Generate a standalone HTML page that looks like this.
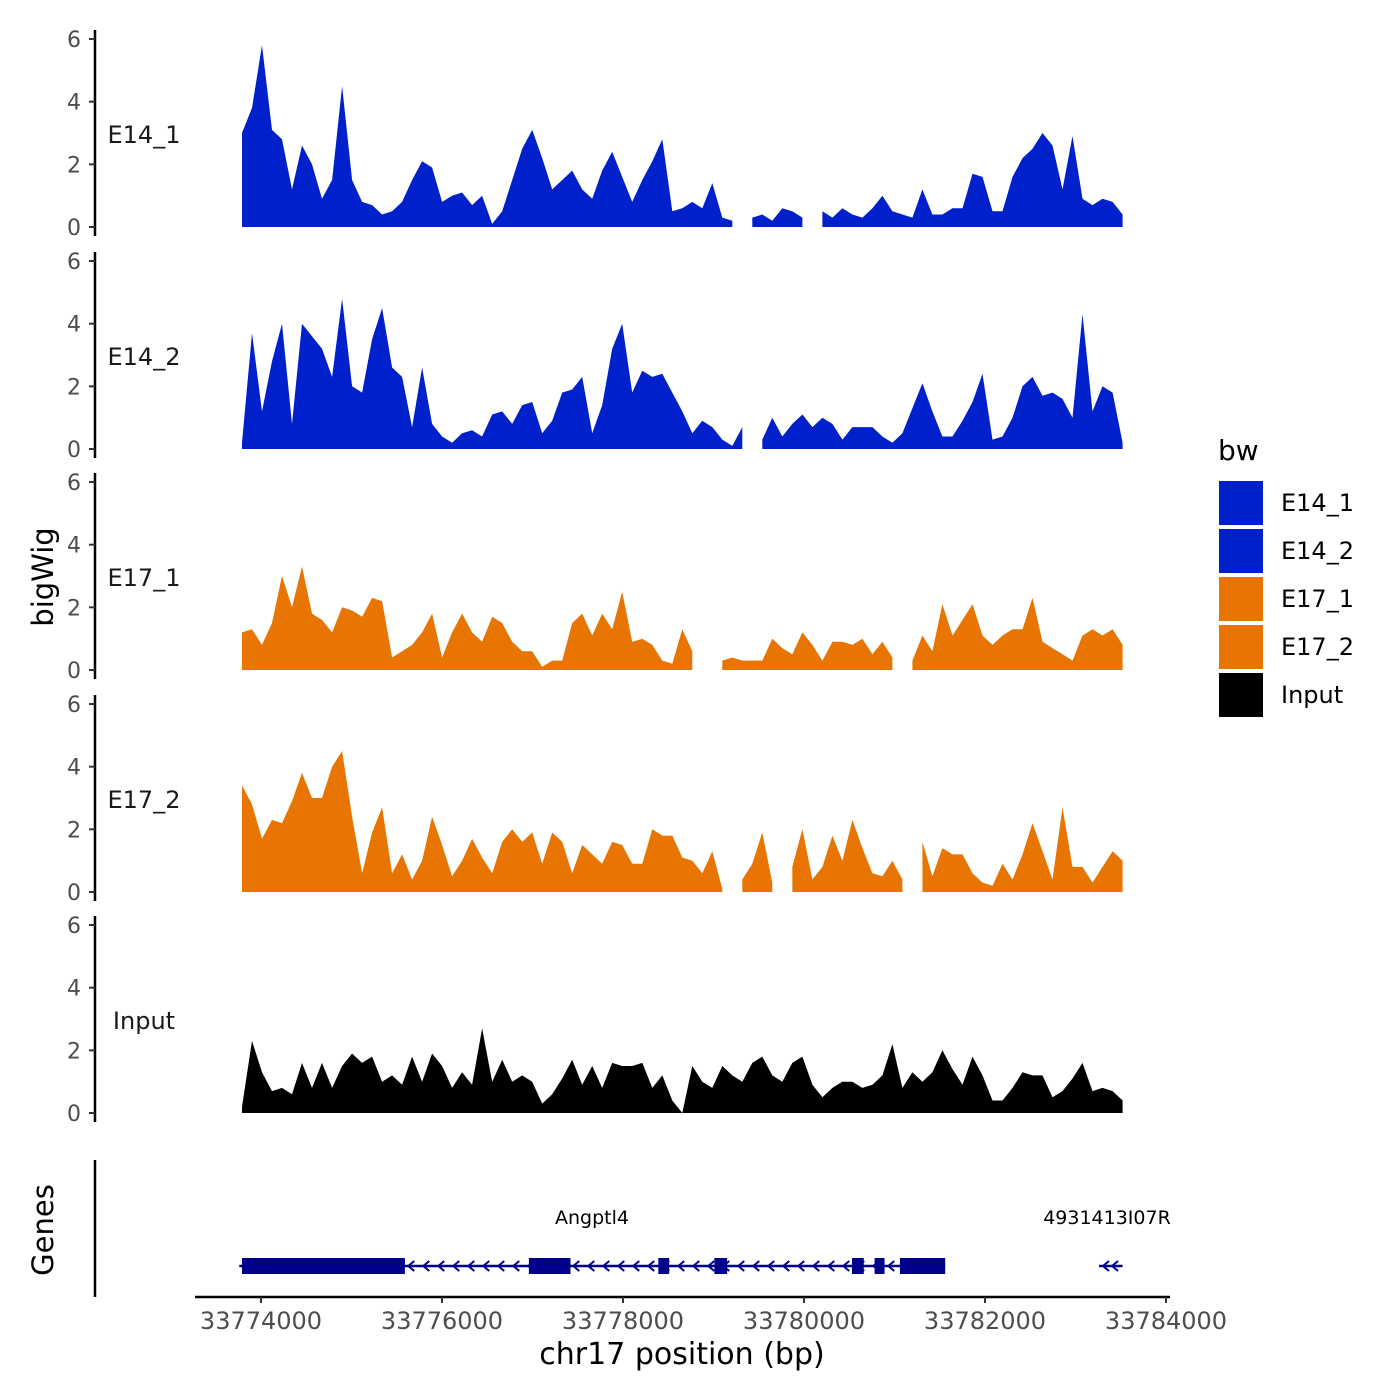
<!DOCTYPE html>
<html><head><meta charset="utf-8"><style>
body{margin:0;background:#fff}
svg{display:block;font-family:"DejaVu Sans","Liberation Sans",sans-serif}
</style></head><body>
<svg id="chart" width="1400" height="1400" viewBox="0 0 1400 1400" xmlns="http://www.w3.org/2000/svg">
<g id="tracks"></g>
<g id="genes"></g>
<g id="xaxis"></g>
<text transform="translate(53,577) rotate(-90)" text-anchor="middle" font-size="29" fill="#000">bigWig</text>
<text transform="translate(53,1230) rotate(-90)" text-anchor="middle" font-size="29" fill="#000">Genes</text>
<text x="682" y="1364" text-anchor="middle" font-size="30" fill="#000">chr17 position (bp)</text>
<g id="legend"></g>
</svg>
<script>
const trackNames = ["E14_1","E14_2","E17_1","E17_2","Input"];
const trackColors = ["#0020CC","#0020CC","#E87502","#E87502","#000000"];
const yTicks = [0,2,4,6];
const xTicks = [33774000,33776000,33778000,33780000,33782000,33784000];
const dataStart = 33773790;
const dataEnd = 33783520;
const e14_1 = [3,3.8,5.8,3.1,2.8,1.2,2.6,2.0,0.9,1.5,
4.5,1.5,0.8,0.7,0.4,0.5,0.8,1.5,2.1,1.9,
0.8,1.0,1.1,0.7,1.0,0.1,0.5,1.5,2.5,3.1,
2.2,1.2,1.5,1.8,1.2,0.9,1.8,2.4,1.6,0.8,
1.5,2.1,2.8,0.5,0.6,0.8,0.6,1.4,0.3,0.2,
null,0.3,0.4,0.2,0.6,0.5,0.3,null,0.5,0.3,
0.6,0.4,0.3,0.6,1.0,0.5,0.4,0.3,1.2,0.4,
0.4,0.6,0.6,1.7,1.6,0.5,0.5,1.6,2.2,2.5,
3.0,2.6,1.2,2.9,0.9,0.7,0.9,0.8,0.4];
const e14_2 = [0.2,3.7,1.2,2.8,4.0,0.8,4.0,3.6,3.2,2.3,
4.8,2.0,1.8,3.5,4.5,2.6,2.3,0.7,2.6,0.8,
0.4,0.2,0.5,0.6,0.4,1.1,1.2,0.8,1.4,1.5,
0.5,0.9,1.8,1.9,2.3,0.5,1.4,3.2,4.0,1.8,
2.5,2.3,2.4,1.8,1.2,0.5,0.9,0.7,0.3,0.1,
0.7,null,0.3,1.0,0.4,0.8,1.1,0.7,1.0,0.8,
0.3,0.7,0.7,0.7,0.4,0.2,0.5,1.3,2.1,1.2,
0.4,0.4,0.9,1.5,2.4,0.3,0.4,1.0,2.0,2.3,
1.7,1.8,1.6,1.0,4.3,1.2,2.0,1.8,0.2];
const e17_1 = [1.2,1.3,0.8,1.5,3.0,2.0,3.3,1.8,1.6,1.2,
2.0,1.9,1.7,2.3,2.2,0.4,0.6,0.8,1.2,1.8,
0.4,1.2,1.8,1.2,0.9,1.7,1.5,0.9,0.6,0.6,
0.1,0.3,0.3,1.5,1.8,1.1,1.8,1.3,2.5,0.9,
1.0,0.8,0.3,0.2,1.3,0.6,null,null,0.3,0.4,
0.3,0.3,0.3,1.0,0.7,0.5,1.2,0.8,0.3,0.9,
0.9,0.8,1.0,0.5,0.9,0.4,null,0.3,1.1,0.6,
2.1,1.1,1.6,2.1,1.1,0.8,1.1,1.3,1.3,2.3,
0.9,0.7,0.5,0.3,1.1,1.3,1.1,1.3,0.8];
const e17_2 = [3.4,2.8,1.7,2.3,2.2,2.9,3.8,3.0,3.0,4.0,
4.5,2.4,0.6,1.9,2.7,0.6,1.2,0.4,1.0,2.4,
1.5,0.5,1.0,1.7,1.1,0.6,1.6,2.0,1.6,1.9,
0.9,1.9,1.6,0.6,1.5,1.2,0.9,1.6,1.5,0.9,
0.9,2.0,1.8,1.8,1.1,1.0,0.6,1.3,0.1,null,
0.4,0.9,1.9,0.3,null,0.8,2.0,0.4,0.8,1.8,
1.0,2.3,1.4,0.6,0.5,1.0,0.4,null,1.6,0.5,
1.4,1.2,1.2,0.6,0.3,0.2,0.9,0.4,1.2,2.2,
1.3,0.4,2.7,0.8,0.8,0.3,0.8,1.3,1.0];
const input = [0.2,2.3,1.3,0.7,0.8,0.6,1.6,0.8,1.6,0.8,
1.5,1.9,1.6,1.8,1.0,1.2,0.9,1.8,1.0,1.9,
1.5,0.8,1.3,0.9,2.7,1.0,1.7,1.0,1.2,1.0,
0.3,0.6,1.1,1.7,0.9,1.5,0.8,1.6,1.5,1.5,
1.6,0.8,1.2,0.4,0.0,1.5,1.0,0.8,1.5,1.2,
1.0,1.6,1.8,1.2,1.0,1.6,1.8,0.9,0.5,0.8,
1.0,1.0,0.8,0.9,1.2,2.2,0.8,1.3,1.0,1.3,
2.0,1.4,0.9,1.8,1.2,0.4,0.4,0.8,1.3,1.2,
1.2,0.5,0.7,1.1,1.6,0.7,0.8,0.7,0.4];
const seriesValues = [e14_1,e14_2,e17_1,e17_2,input];
const geneName = ["Angptl4","4931413I07R"];
const geneStart = [33773760,33783260];
const geneEnd = [33781560,33783520];
const exonStart = [33773790,33776960,33778390,33779010,33780530,33780780,33781060];
const exonEnd = [33775590,33777420,33778510,33779150,33780660,33780890,33781560];

const NS="http://www.w3.org/2000/svg";
function mk(tag,attrs,parent){const e=document.createElementNS(NS,tag);for(const k in attrs)e.setAttribute(k,attrs[k]);parent.appendChild(e);return e;}
const xScale = bp => 261 + (bp-33774000)*0.0905;
const zeroY = [227,449,670,892,1113];
const yScale = (t,v) => zeroY[t] - v*31.33;

const tracks=document.getElementById('tracks');
seriesValues.forEach((vals,t)=>{
  const g=mk('g',{},tracks);
  
  
  const n=vals.length, step=(dataEnd-dataStart)/(n-1);
  let seg=[];
  const flush=()=>{ if(seg.length>0){
    let d='M'+seg[0][0]+','+zeroY[t];
    seg.forEach(p=>d+=' L'+p[0].toFixed(1)+','+p[1].toFixed(1));
    d+=' L'+seg[seg.length-1][0].toFixed(1)+','+zeroY[t]+' Z';
    const p=mk('path',{d:d,fill:trackColors[t]},g);
    
    
  } seg=[]; };
  vals.forEach((v,i)=>{ if(v===null){flush();} else seg.push([xScale(dataStart+i*step),yScale(t,v)]); });
  flush();
  const ax=mk('line',{x1:95,x2:95,y1:yScale(t,6)-9,y2:zeroY[t]+9,stroke:'#000','stroke-width':2.5},g);
  
  
  yTicks.forEach(v=>{
    const y=yScale(t,v);
    mk('line',{x1:89,x2:95,y1:y,y2:y,stroke:'#333','stroke-width':2},g);
    const tx=mk('text',{x:81,y:y+8,'text-anchor':'end','font-size':22,fill:'#4d4d4d'},g);
    tx.textContent=v;
    
    
  });
  const lb=mk('text',{x:144,y:zeroY[t]-84,'text-anchor':'middle','font-size':24,fill:'#1a1a1a'},g);
  lb.textContent=trackNames[t];
  
  
});

const gg=document.getElementById('genes');
const ga=mk('line',{x1:95,x2:95,y1:1160,y2:1297,stroke:'#000','stroke-width':2.5},gg);


const gy=1266, gc='#00008B';
geneName.forEach((nm,i)=>{
  const x1=xScale(geneStart[i]), x2=xScale(geneEnd[i]);
  const l=mk('line',{x1:x1,x2:x2,y1:gy,y2:gy,stroke:gc,'stroke-width':2.5},gg);
  
  
  const sp = i===0 ? 15 : 9;
  for(let x=x1+6;x<x2;x+=sp){
    const a=mk('path',{d:`M${x+4},${gy-5} L${x-2},${gy} L${x+4},${gy+5}`,fill:'none',stroke:gc,'stroke-width':2},gg);
    
    
  }
  const t=mk('text',{x:(i===0?592:1107),y:1224,'text-anchor':'middle','font-size':19,fill:'#000'},gg);
  t.textContent=nm;
  
  
});
exonStart.forEach((s,i)=>{
  const r=mk('rect',{x:xScale(s),y:gy-8,width:xScale(exonEnd[i])-xScale(s),height:16,fill:gc},gg);
  
  
});

const xa=document.getElementById('xaxis');
mk('line',{x1:195,x2:1170,y1:1297,y2:1297,stroke:'#000','stroke-width':2.5},xa);
xTicks.forEach(v=>{
  const x=xScale(v);
  mk('line',{x1:x,x2:x,y1:1297,y2:1303,stroke:'#333','stroke-width':2},xa);
  const t=mk('text',{x:x,y:1329,'text-anchor':'middle','font-size':24,fill:'#4d4d4d'},xa);
  t.textContent=v;
  
  
});

const lg=document.getElementById('legend');
const lt=mk('text',{x:1218,y:460,'font-size':28,fill:'#000'},lg);
lt.textContent='bw';


trackNames.forEach((nm,i)=>{
  const y=481+i*48;
  const r=mk('rect',{x:1219,y:y,width:44,height:44,fill:trackColors[i]},lg);
  
  
  const t=mk('text',{x:1281,y:y+30,'font-size':24,fill:'#000'},lg);
  t.textContent=nm;
  
  
});
</script>
</body></html>
